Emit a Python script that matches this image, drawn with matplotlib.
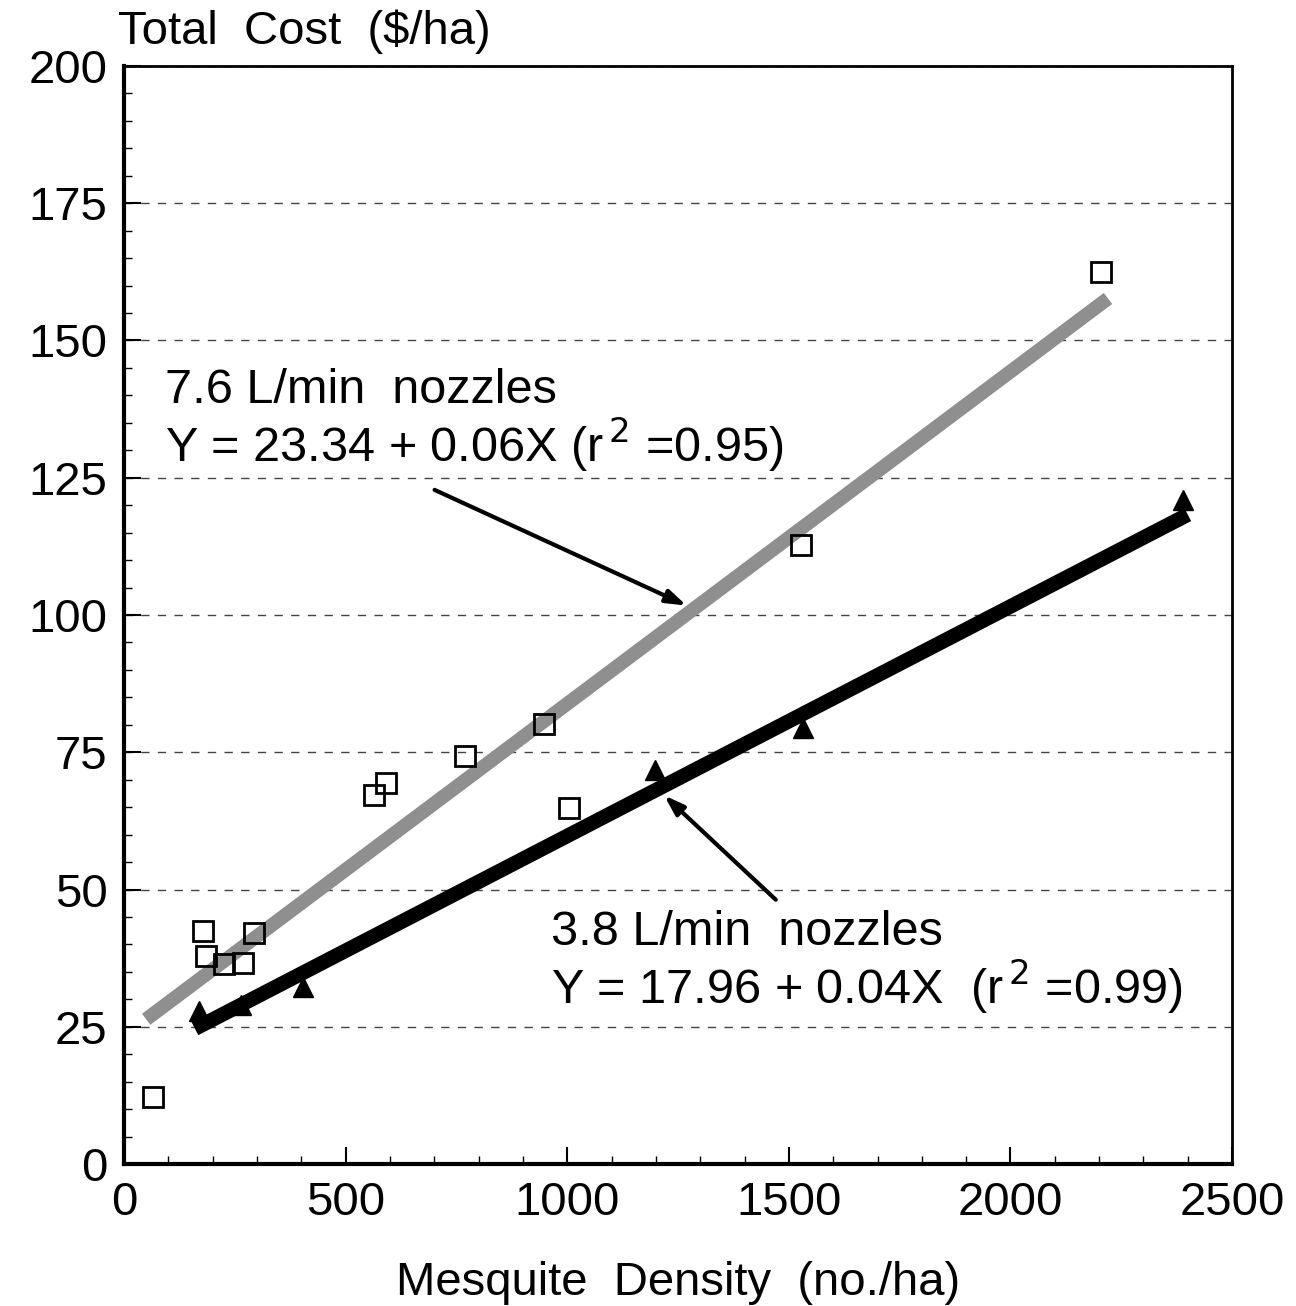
import numpy as np
import matplotlib.pyplot as plt
from matplotlib.ticker import MultipleLocator

plt.rcParams['font.family'] = ['Liberation Sans', 'DejaVu Sans']

# 7.6 L/min nozzles (open squares)
x_76 = [65, 178, 185, 226, 268, 293, 564, 591, 769, 948, 1004, 1527, 2204]
y_76 = [12.2, 42.4, 37.9, 36.4, 36.6, 42.1, 67.2, 69.4, 74.3, 80.1, 64.8, 112.7, 162.5]

# 3.8 L/min nozzles (filled triangles)
x_38 = [169, 264, 404, 1198, 1532, 2389]
y_38 = [27.9, 29.0, 32.2, 71.8, 79.4, 121.0]

# fitted lines (intercept, slope) and their x range
fit_76 = (23.34, 0.0605)
fit_76_x = [50, 2220]
fit_38 = (17.96, 0.0418)
fit_38_x = [160, 2400]

fig = plt.figure(figsize=(12.96, 13.06), dpi=100)
ax = fig.add_axes([0.0957, 0.1087, 0.855, 0.8408])

# lines
fx = np.array(fit_76_x)
ax.plot(fx, fit_76[0] + fit_76[1] * fx, color='#8f8f8f', lw=10,
        solid_capstyle='butt', zorder=2)
fx = np.array(fit_38_x)
ax.plot(fx, fit_38[0] + fit_38[1] * fx, color='black', lw=10.5,
        solid_capstyle='butt', zorder=2)

# points
ax.plot(x_76, y_76, 's', ms=14, mfc='none', mec='black', mew=2, zorder=3)
ax.plot(x_38, y_38, '^', ms=15, color='black', zorder=3)

ax.set_xlim(0, 2500)
ax.set_ylim(0, 200)
ax.xaxis.set_major_locator(MultipleLocator(500))
ax.xaxis.set_minor_locator(MultipleLocator(100))
ax.yaxis.set_major_locator(MultipleLocator(25))
ax.yaxis.set_minor_locator(MultipleLocator(5))
ax.tick_params(which='both', direction='in', labelsize=34, top=False, right=False)
ax.tick_params(which='major', length=12, width=1.5, pad=12)
ax.tick_params(which='minor', length=6, width=1)

ax.yaxis.grid(True, which='major', ls=(0, (6, 6)), color='#444444', lw=1)
for s in ['left', 'bottom']:
    ax.spines[s].set_linewidth(3)
for s in ['top', 'right']:
    ax.spines[s].set_linewidth(2)

ax.set_xlabel('Mesquite  Density  (no./ha)', fontsize=34, labelpad=26)
fig.text(0.091, 0.976, 'Total  Cost  ($/ha)', fontsize=34, ha='left', va='center')

# annotations
ax.text(93, 135.4, '7.6 L/min  nozzles\nY = 23.34 + 0.06X (r$^{\\,2}$ =0.95)',
        fontsize=35, ha='left', va='center', linespacing=1.05)
ax.annotate('', xy=(1275, 101.5), xytext=(695, 123),
            arrowprops=dict(arrowstyle='-|>,head_length=1.2,head_width=0.4',
                            color='black', lw=3))

ax.text(963, 36.6, '3.8 L/min  nozzles\nY = 17.96 + 0.04X  (r$^{\\,2}$ =0.99)',
        fontsize=35, ha='left', va='center', linespacing=1.05)
ax.annotate('', xy=(1214, 67.5), xytext=(1475, 47.8),
            arrowprops=dict(arrowstyle='-|>,head_length=1.2,head_width=0.4',
                            color='black', lw=3))

plt.savefig('out.png')
